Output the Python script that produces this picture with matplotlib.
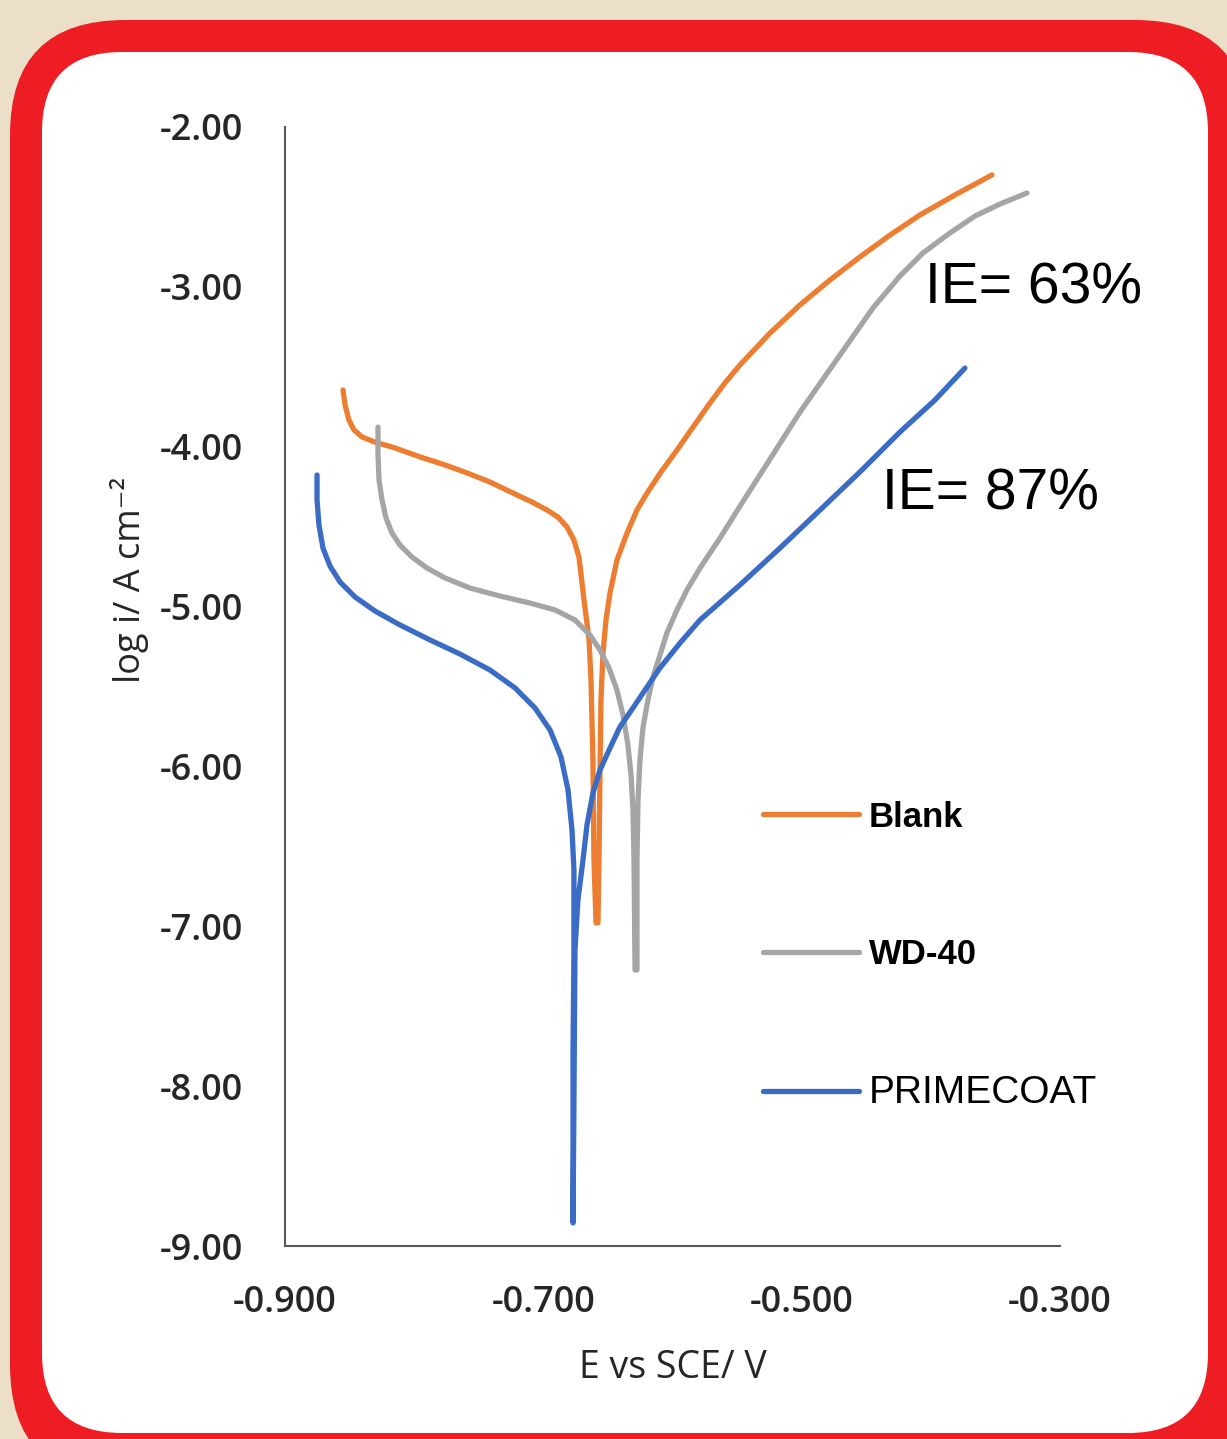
import matplotlib.pyplot as plt
from matplotlib.patches import FancyBboxPatch

plt.rcParams['axes.unicode_minus'] = False

# potential (V vs SCE) and log current density
# each curve: cathodic branch down to Ecorr, then anodic branch back up
blank_E = [-0.8551, -0.8535, -0.8505, -0.8466, -0.8404, -0.8303, -0.8148, -0.7955,
           -0.7761, -0.7591, -0.7413, -0.7235, -0.7088, -0.6972, -0.6887, -0.6817,
           -0.6763, -0.6724, -0.6685, -0.6646, -0.6631, -0.6616, -0.6608, -0.6592,
           -0.6577, -0.6569, -0.6561, -0.6554, -0.6538, -0.6515, -0.6484, -0.6430,
           -0.6352, -0.6275, -0.6197, -0.6089, -0.5965, -0.5841, -0.5710, -0.5594,
           -0.5478, -0.5245, -0.5013, -0.4781, -0.4549, -0.4316, -0.4084, -0.3813,
           -0.3527]
blank_logi = [-3.645, -3.739, -3.833, -3.895, -3.939, -3.971, -4.008, -4.064,
              -4.114, -4.164, -4.221, -4.290, -4.346, -4.396, -4.440, -4.502,
              -4.584, -4.690, -4.959, -5.209, -5.459, -5.960, -6.585, -6.979,
              -6.979, -6.585, -6.022, -5.584, -5.290, -5.084, -4.915, -4.709,
              -4.540, -4.396, -4.290, -4.158, -4.021, -3.877, -3.727, -3.601,
              -3.489, -3.289, -3.113, -2.957, -2.813, -2.676, -2.550, -2.425,
              -2.300]

wd40_E = [-0.8280, -0.8280, -0.8272, -0.8249, -0.8218, -0.8172, -0.8110, -0.8017,
          -0.7901, -0.7761, -0.7568, -0.7336, -0.7103, -0.6910, -0.6755, -0.6639,
          -0.6561, -0.6492, -0.6430, -0.6383, -0.6345, -0.6321, -0.6306, -0.6298,
          -0.6290,
          -0.6275, -0.6275, -0.6267, -0.6252, -0.6228, -0.6190, -0.6151, -0.6097,
          -0.6043, -0.5965, -0.5888, -0.5787, -0.5632, -0.5462, -0.5284, -0.5013,
          -0.4703, -0.4448, -0.4239, -0.4061, -0.3852, -0.3658, -0.3465, -0.3256]
wd40_logi = [-3.877, -4.052, -4.208, -4.333, -4.446, -4.540, -4.615, -4.690,
             -4.759, -4.821, -4.884, -4.934, -4.978, -5.021, -5.084, -5.178,
             -5.272, -5.384, -5.522, -5.678, -5.866, -6.054, -6.273, -6.585,
             -7.273,
             -7.273, -6.585, -6.210, -5.960, -5.753, -5.584, -5.441, -5.303,
             -5.165, -5.021, -4.896, -4.759, -4.571, -4.352, -4.127, -3.783,
             -3.426, -3.132, -2.932, -2.788, -2.663, -2.557, -2.482, -2.413]

prime_E = [-0.8752, -0.8752, -0.8737, -0.8706, -0.8652, -0.8574, -0.8458, -0.8303,
           -0.8110, -0.7877, -0.7645, -0.7413, -0.7219, -0.7065, -0.6948, -0.6863,
           -0.6809, -0.6778, -0.6763, -0.6763, -0.6770, -0.6770,
           -0.6763, -0.6755, -0.6732, -0.6693, -0.6662, -0.6616, -0.6561, -0.6484,
           -0.6407, -0.6306, -0.6213, -0.6097, -0.5942, -0.5787, -0.5478, -0.5168,
           -0.4858, -0.4549, -0.4239, -0.3968, -0.3736]
prime_logi = [-4.177, -4.333, -4.490, -4.634, -4.746, -4.846, -4.940, -5.028,
              -5.115, -5.209, -5.297, -5.397, -5.509, -5.634, -5.772, -5.941,
              -6.147, -6.398, -6.648, -7.148, -7.774, -8.856,
              -8.087, -7.148, -6.836, -6.585, -6.366, -6.166, -6.022, -5.885,
              -5.753, -5.634, -5.522, -5.384, -5.228, -5.084, -4.865, -4.634,
              -4.396, -4.158, -3.908, -3.708, -3.508]

series_names = ['Blank', 'WD-40', 'PRIMECOAT']
series_colors = ['#ED7D31', '#A5A5A5', '#3B6CC5']

x_ticks = [-0.9, -0.7, -0.5, -0.3]
x_tick_labels = ['-0.900', '-0.700', '-0.500', '-0.300']
y_ticks = [-2, -3, -4, -5, -6, -7, -8, -9]
y_tick_labels = ['-2.00', '-3.00', '-4.00', '-5.00', '-6.00', '-7.00', '-8.00', '-9.00']

ie_labels = ['IE= 63%', 'IE= 87%']

W, H = 1227, 1439
fig = plt.figure(figsize=(W / 100, H / 100), dpi=100, facecolor='#ECDFC8')

# red rounded frame, laid out in pixel units
bg = fig.add_axes([0, 0, 1, 1])
bg.set_xlim(0, W)
bg.set_ylim(H, 0)
bg.axis('off')
bg.add_patch(FancyBboxPatch((10, 20), 1240, 1460, boxstyle='round,pad=0,rounding_size=115',
                            fc='#EE1D24', ec='none'))
bg.add_patch(FancyBboxPatch((42, 52), 1166, 1381, boxstyle='round,pad=0,rounding_size=80',
                            fc='white', ec='none'))

ax = fig.add_axes([285 / W, 1 - 1246 / H, 775 / W, 1119 / H])
ax.patch.set_alpha(0)

for E, logi, name, col in zip([blank_E, wd40_E, prime_E],
                              [blank_logi, wd40_logi, prime_logi],
                              series_names, series_colors):
    ax.plot(E, logi, color=col, lw=3.8, label=name,
            solid_capstyle='round', solid_joinstyle='round')

ax.set_xlim(-0.9, -0.3)
ax.set_ylim(-9, -2)
for s in ['top', 'right']:
    ax.spines[s].set_visible(False)
for s in ['left', 'bottom']:
    ax.spines[s].set_color('#595959')
    ax.spines[s].set_linewidth(1.5)

tick_font = dict(family='Open Sans', size=26, weight='semibold', color='#262626')
ax.set_xticks(x_ticks)
ax.set_xticklabels(x_tick_labels, **tick_font)
ax.set_yticks(y_ticks)
ax.set_yticklabels(y_tick_labels, **tick_font)
ax.tick_params(axis='both', length=0)
ax.tick_params(axis='y', pad=30)
ax.tick_params(axis='x', pad=28)

ax.set_xlabel('E vs SCE/ V', family='Open Sans', size=27, color='#262626', labelpad=20)
ax.set_ylabel('log i/ A cm⁻²', family=['Open Sans', 'DejaVu Sans'], size=26,
              color='#262626')
ax.yaxis.set_label_coords(-0.176, 0.595)

leg = ax.legend(loc='upper left', bbox_to_anchor=(0.617, 0.398), frameon=False,
                prop={'family': 'Liberation Sans', 'size': 25},
                handlelength=2.75, handletextpad=0.3, labelspacing=3.0,
                borderpad=0, borderaxespad=0)
for t in leg.get_texts()[:2]:
    t.set_fontweight('bold')
leg.get_texts()[2].set_fontsize(28)

ax.text(925, 303, ie_labels[0], transform=bg.transData, family='Liberation Sans',
        size=41, ha='left', va='baseline')
ax.text(882, 510, ie_labels[1], transform=bg.transData, family='Liberation Sans',
        size=41, ha='left', va='baseline')

fig.savefig('out.png', dpi=100, facecolor=fig.get_facecolor())
